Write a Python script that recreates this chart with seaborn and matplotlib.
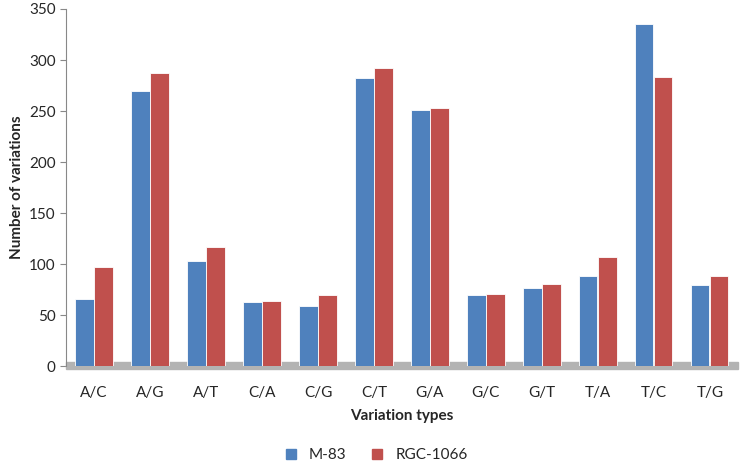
import pandas as pd
import numpy as np
from matplotlib import pyplot as plt
import seaborn as sns

# values
variation_types = ['A/C', 'A/G', 'A/T', 'C/A', 'C/G', 'C/T', 'G/A', 'G/C', 'G/T', 'T/A', 'T/C', 'T/G']
m83 = [66, 270, 103, 63, 59, 282, 251, 70, 77, 88, 335, 79]
rgc1066 = [97, 287, 117, 64, 70, 292, 253, 71, 80, 107, 283, 88]

df = pd.DataFrame({'Variation types': variation_types * 2,
                   'Number of variations': m83 + rgc1066,
                   'Sample': ['M-83'] * len(m83) + ['RGC-1066'] * len(rgc1066)})

sns.set_style('white')
plt.rcParams['font.family'] = ['Lato', 'DejaVu Sans']

fig = plt.figure(figsize=(7.43, 4.73), dpi=100)
ax = fig.add_axes([0.089, 0.226, 0.904, 0.755])

colors = ['#4F81BD', '#C0504D']
sns.barplot(data=df, x='Variation types', y='Number of variations', hue='Sample',
            palette=colors, saturation=1, width=0.68, gap=0.04,
            edgecolor='white', linewidth=0.6, ax=ax)
for bar in ax.patches:
    bar.set_zorder(3)

# gray floor under the bars
floor = plt.Rectangle((0, -0.008), 1.0, 0.02, transform=ax.transAxes,
                      color='#B3B3B3', clip_on=False, zorder=1)
ax.add_patch(floor)

ax.set_ylim(0, 350)
ax.set_yticks(range(0, 351, 50))
ax.set_xlim(-0.5, len(variation_types) - 0.5)
ax.tick_params(axis='y', labelsize=11, length=4, color='#888888', direction='out', left=True)
ax.tick_params(axis='x', labelsize=11, length=0, pad=14)
for side in ['top', 'right', 'bottom']:
    ax.spines[side].set_visible(False)
ax.spines['left'].set_color('#888888')

ax.set_ylabel('Number of variations', fontsize=11, fontweight='bold')
ax.set_xlabel('Variation types', fontsize=11, fontweight='bold', labelpad=7)

ax.legend_.remove()
handles = [plt.Line2D([], [], marker='s', linestyle='', color=c, markersize=7) for c in colors]
fig.legend(handles, ['M-83', 'RGC-1066'], loc='center', bbox_to_anchor=(0.5, 0.038),
           ncol=2, frameon=False, fontsize=11, handletextpad=0.2, columnspacing=1.0)

plt.savefig('out.png')
